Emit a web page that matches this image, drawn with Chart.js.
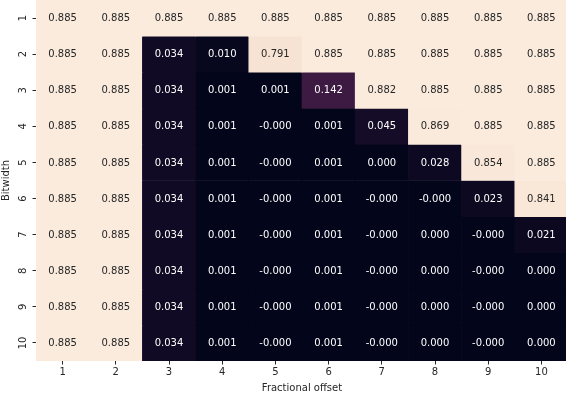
<!DOCTYPE html>
<html>
<head>
<meta charset="utf-8">
<script src="https://cdn.jsdelivr.net/npm/chart.js@4.4.0/dist/chart.umd.min.js"></script>
<style>
  html, body { margin: 0; padding: 0; background: #fff; overflow: hidden; }
  #wrap { width: 568px; height: 394px; }
</style>
</head>
<body>
<div id="wrap"><canvas id="heat"></canvas></div>
<script>
// Fractional offset (columns) and bitwidth (rows)
const offsets = ['1', '2', '3', '4', '5', '6', '7', '8', '9', '10'];
const bitwidths = [1, 2, 3, 4, 5, 6, 7, 8, 9, 10];

// one array per bitwidth, -0.0001 shows as "-0.000"
const bw1  = [0.885, 0.885, 0.885, 0.885, 0.885, 0.885, 0.885, 0.885, 0.885, 0.885];
const bw2  = [0.885, 0.885, 0.034, 0.010, 0.791, 0.885, 0.885, 0.885, 0.885, 0.885];
const bw3  = [0.885, 0.885, 0.034, 0.001, 0.001, 0.142, 0.882, 0.885, 0.885, 0.885];
const bw4  = [0.885, 0.885, 0.034, 0.001, -0.0001, 0.001, 0.045, 0.869, 0.885, 0.885];
const bw5  = [0.885, 0.885, 0.034, 0.001, -0.0001, 0.001, 0.0001, 0.028, 0.854, 0.885];
const bw6  = [0.885, 0.885, 0.034, 0.001, -0.0001, 0.001, -0.0001, -0.0001, 0.023, 0.841];
const bw7  = [0.885, 0.885, 0.034, 0.001, -0.0001, 0.001, -0.0001, 0.0001, -0.0001, 0.021];
const bw8  = [0.885, 0.885, 0.034, 0.001, -0.0001, 0.001, -0.0001, 0.0001, -0.0001, 0.0001];
const bw9  = [0.885, 0.885, 0.034, 0.001, -0.0001, 0.001, -0.0001, 0.0001, -0.0001, 0.0001];
const bw10 = [0.885, 0.885, 0.034, 0.001, -0.0001, 0.001, -0.0001, 0.0001, -0.0001, 0.0001];
const rows = [bw1, bw2, bw3, bw4, bw5, bw6, bw7, bw8, bw9, bw10];

const allVals = rows.flat();
const vmin = Math.min(...allVals);
const vmax = Math.max(...allVals);

// rocket-like colormap
const stops = [
  [0.0, [3, 5, 26]],
  [0.1429, [53, 25, 62]],
  [0.2857, [112, 31, 87]],
  [0.4286, [173, 23, 89]],
  [0.5714, [225, 51, 66]],
  [0.7143, [243, 118, 81]],
  [0.8571, [246, 180, 143]],
  [0.89, [247, 227, 211]],
  [1.0, [250, 235, 221]]
];

function rgbFor(v) {
  let t = (v - vmin) / (vmax - vmin);
  t = Math.max(0, Math.min(1, t));
  for (let i = 1; i < stops.length; i++) {
    if (t <= stops[i][0]) {
      const a = stops[i - 1], b = stops[i];
      const f = (t - a[0]) / (b[0] - a[0]);
      return a[1].map((c, k) => Math.round(c + (b[1][k] - c) * f));
    }
  }
  return stops[stops.length - 1][1];
}

function colorFor(v) {
  const c = rgbFor(v);
  return 'rgb(' + c.join(',') + ')';
}

function textColor(v) {
  const lum = rgbFor(v).map(c => {
    c = c / 255;
    return c <= 0.03928 ? c / 12.92 : Math.pow((c + 0.055) / 1.055, 2.4);
  });
  const l = 0.2126 * lum[0] + 0.7152 * lum[1] + 0.0722 * lum[2];
  return l > 0.408 ? '#262626' : '#ffffff';
}

const datasets = rows.map((vals, r) => ({
  label: 'Bitwidth ' + bitwidths[r],
  data: vals.map((v, i) => ({ x: offsets[i], y: [bitwidths[r] - 0.5, bitwidths[r] + 0.5], v: v })),
  backgroundColor: ctx => colorFor(ctx.raw.v),
  borderWidth: 0,
  borderSkipped: false,
  grouped: false,
  barPercentage: 1,
  categoryPercentage: 1
}));

// value text in each cell
const cellText = {
  id: 'cellText',
  afterDatasetsDraw(chart) {
    const ctx = chart.ctx;
    ctx.save();
    ctx.font = '10px "DejaVu Sans"';
    ctx.textAlign = 'center';
    ctx.textBaseline = 'middle';
    chart.data.datasets.forEach((ds, di) => {
      chart.getDatasetMeta(di).data.forEach((bar, i) => {
        const v = ds.data[i].v;
        const p = bar.getCenterPoint();
        ctx.fillStyle = textColor(v);
        ctx.fillText(v.toFixed(3), p.x, p.y + 0.5);
      });
    });
    ctx.restore();
  }
};

// rotated y tick labels
const yLabels = {
  id: 'yLabels',
  afterDraw(chart) {
    const ctx = chart.ctx;
    const y = chart.scales.y;
    ctx.save();
    ctx.font = '10px "DejaVu Sans"';
    ctx.fillStyle = '#262626';
    ctx.textAlign = 'center';
    ctx.textBaseline = 'alphabetic';
    bitwidths.forEach(b => {
      ctx.save();
      ctx.translate(25.5, y.getPixelForValue(b));
      ctx.rotate(-Math.PI / 2);
      ctx.fillText(String(b), 0, 0);
      ctx.restore();
    });
    ctx.restore();
  }
};

new Chart(document.getElementById('heat'), {
  type: 'bar',
  data: { labels: offsets, datasets: datasets },
  options: {
    responsive: true,
    maintainAspectRatio: false,
    animation: false,
    layout: { padding: 0 },
    plugins: { legend: { display: false }, tooltip: { enabled: false } },
    scales: {
      x: {
        type: 'category',
        offset: true,
        grid: { drawOnChartArea: false, drawTicks: true, tickLength: 3.5, color: '#262626', offset: false },
        border: { display: false },
        ticks: { color: '#262626', font: { family: 'DejaVu Sans', size: 10 }, padding: 2, maxRotation: 0 },
        title: { display: true, text: 'Fractional offset', color: '#262626', font: { family: 'DejaVu Sans', size: 10 }, padding: 0 },
        afterFit: s => { s.height = 33; }
      },
      y: {
        type: 'linear',
        min: 0.5,
        max: 10.5,
        reverse: true,
        afterBuildTicks: s => { s.ticks = bitwidths.map(v => ({ value: v })); },
        grid: { drawOnChartArea: false, drawTicks: true, tickLength: 3.5, color: '#262626' },
        border: { display: false },
        ticks: { display: false },
        title: { display: true, text: 'Bitwidth', color: '#262626', font: { family: 'DejaVu Sans', size: 10 }, padding: 0 },
        afterFit: s => { s.width = 36; }
      }
    }
  },
  plugins: [cellText, yLabels]
});
</script>
</body>
</html>
